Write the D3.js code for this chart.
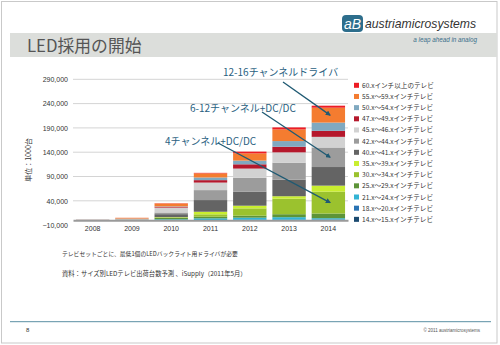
<!DOCTYPE html>
<html><head><meta charset="utf-8">
<script src="https://cdn.jsdelivr.net/npm/d3@7"></script>
<style>html,body{margin:0;padding:0;background:#fff;}svg{display:block;}</style>
</head><body>
<svg id="c" width="500" height="345"></svg>
<script>
// ---- data ----
const years = ["2008","2009","2010","2011","2012","2013","2014"];
const seriesNames = [
  "14.x～15.xインチテレビ","18.x～20.xインチテレビ","21.x～24.xインチテレビ","25.x～29.xインチテレビ",
  "30.x～34.xインチテレビ","35.x～39.xインチテレビ","40.x～41.xインチテレビ","42.x～44.xインチテレビ",
  "45.x～46.xインチテレビ","47.x～49.xインチテレビ","50.x～54.xインチテレビ","55.x～59.xインチテレビ",
  "60.xインチ以上のテレビ"];
const seriesColors = ["#1b4a70","#2a73b3","#33b4d4","#5d9438","#9bc22e","#c9ee30","#646464","#9c9c9c",
  "#d2d2d2","#b5182c","#80a9c0","#f47c30","#ed1c24"];
const s14 = [25, 50, 200, 200, 300, 300, 500];
const s18 = [25, 50, 300, 300, 500, 500, 1000];
const s21 = [50, 100, 1500, 3500, 4500, 5500, 2700];
const s25 = [200, 300, 3000, 3200, 4100, 6100, 9600];
const s30 = [100, 200, 1000, 5000, 15000, 32000, 45100];
const s35 = [0, 100, 500, 5300, 5500, 5000, 12300];
const s40 = [300, 600, 6000, 24000, 28700, 34000, 38300];
const s42 = [300, 700, 3500, 20500, 28700, 35000, 40200];
const s45 = [300, 800, 10000, 15500, 19000, 21300, 21900];
const s47 = [50, 300, 1500, 5000, 8800, 11500, 12300];
const s50 = [50, 300, 1000, 5500, 7600, 11700, 17000];
const s55 = [100, 1500, 6000, 8500, 15000, 24000, 30700];
const s60 = [0, 100, 500, 1000, 3500, 4100, 4100];
const seriesValues = [s14,s18,s21,s25,s30,s35,s40,s42,s45,s47,s50,s55,s60];
const yTicks = [-10000, 40000, 90000, 140000, 190000, 240000, 290000];
const annotations = [
  {text:"12-16チャンネルドライバ", year:"2014", series:11},
  {text:"6-12チャンネル+DC/DC", year:"2014", series:7},
  {text:"4チャンネル+DC/DC", year:"2014", series:4}
];
const notes = ["テレビセットごとに、最低1個のLEDバックライト用ドライバが必要",
               "資料：サイズ別LEDテレビ出荷台数予測 、iSupply（2011年5月）"];

// ---- drawing ----
const svg = d3.select("#c");
const JP = "'Noto Sans CJK JP','Noto Sans',sans-serif";
const LAT = "'Liberation Sans',Arial,sans-serif";

// page border
svg.append("rect").attr("x",1.5).attr("y",1.5).attr("width",495.5).attr("height",341.5)
  .attr("fill","none").attr("stroke","#c9c9c9").attr("stroke-width",1);

// title band
svg.append("rect").attr("x",10).attr("y",33).attr("width",487).attr("height",24).attr("fill","#dcdedb");
svg.append("text").attr("x",27).attr("y",52).attr("font-family",JP).attr("font-size",16.8)
  .attr("fill","#555").text("LED採用の開始");

// logo
svg.append("rect").attr("x",342).attr("y",15).attr("width",21).attr("height",17).attr("rx",4)
  .attr("fill","#2d6e8c");
svg.append("text").attr("x",352.5).attr("y",28.5).attr("text-anchor","middle").attr("font-family",LAT)
  .attr("font-style","italic").attr("font-size",14).attr("fill","#fff").text("aB");
svg.append("text").attr("x",365).attr("y",28).attr("font-family",LAT).attr("font-style","italic")
  .attr("font-size",12.2).attr("fill","#333").text("austriamicrosystems");
svg.append("text").attr("x",477).attr("y",42).attr("text-anchor","end").attr("font-family",LAT)
  .attr("font-style","italic").attr("font-size",6.3).attr("fill","#3a6e8a").text("a leap ahead in analog");

// scales
const x = d3.scaleBand().domain(years).range([73,348]).paddingInner(0.15).paddingOuter(0.075);
const y = d3.scaleLinear().domain([-10000,290000]).range([225.1,79.3]);

// gridlines
svg.append("g").selectAll("line").data(yTicks.slice(1)).join("line")
  .attr("x1",73).attr("x2",348).attr("y1",d=>y(d)).attr("y2",d=>y(d))
  .attr("stroke","#d4d4d4").attr("stroke-width",1);

// y axis
const yAxis = d3.axisLeft(y).tickValues(yTicks).tickSize(0).tickPadding(5)
  .tickFormat(d3.format(","));
const gy = svg.append("g").attr("transform","translate(73,0)").call(yAxis);
gy.select(".domain").remove();
gy.selectAll("text").attr("font-family",LAT).attr("font-size",7).attr("fill","#333");

svg.append("text").attr("transform","translate(31,160) rotate(-90)").attr("text-anchor","middle")
  .attr("font-family",JP).attr("font-size",7).attr("fill","#333").text("単位：1000台");

// stacked bars
const table = years.map((yr,i)=>{const o={year:yr}; seriesValues.forEach((s,j)=>o[j]=s[i]); return o;});
const stack = d3.stack().keys(d3.range(seriesValues.length))(table);
svg.append("g").selectAll("g").data(stack).join("g").attr("fill",(d,i)=>seriesColors[i])
  .selectAll("rect").data(d=>d).join("rect")
  .attr("x",d=>x(d.data.year)).attr("width",x.bandwidth())
  .attr("y",d=>y(d[1])).attr("height",d=>Math.max(0,y(d[0])-y(d[1])));

// x axis
const xAxis = d3.axisBottom(x).tickSize(0).tickPadding(6);
const gx = svg.append("g").attr("transform",`translate(0,${y(0)})`).call(xAxis);
gx.select(".domain").attr("stroke","#9a9a9a").attr("stroke-width",2);
gx.selectAll("text").attr("font-family",LAT).attr("font-size",7).attr("fill","#333");

// legend
const lg = svg.append("g");
const legendOrder = d3.range(seriesNames.length).reverse();
legendOrder.forEach((si,k)=>{
  const yy = 85.3 + k*11.17;
  lg.append("rect").attr("x",354).attr("y",yy-2.5).attr("width",5).attr("height",5).attr("fill",seriesColors[si]);
  lg.append("text").attr("x",362).attr("y",yy+2.5).attr("font-family",JP).attr("font-size",6.6)
    .attr("fill","#333").text(seriesNames[si]);
});

// annotations with arrows
const defs = svg.append("defs");
defs.append("marker").attr("id","ah").attr("viewBox","0 0 10 10").attr("refX",8).attr("refY",5)
  .attr("markerWidth",4).attr("markerHeight",4).attr("orient","auto")
  .append("path").attr("d","M0,0 L10,5 L0,10 z").attr("fill","#1f5a73");
const annPos = [
  {tx:223, ty:76, x1:283, y1:82},
  {tx:190, ty:112, x1:262, y1:112},
  {tx:165, ty:145, x1:218, y1:143}
];
annotations.forEach((a,i)=>{
  const p = annPos[i];
  const idx = years.indexOf(a.year);
  const st = stack[a.series][idx];
  const tx2 = x(a.year) + x.bandwidth()*0.55;
  const ty2 = (y(st[0])+y(st[1]))/2;
  svg.append("line").attr("x1",p.x1).attr("y1",p.y1).attr("x2",tx2).attr("y2",ty2)
    .attr("stroke","#1f5a73").attr("stroke-width",1.3).attr("marker-end","url(#ah)");
  svg.append("text").attr("x",p.tx).attr("y",p.ty).attr("font-family",JP).attr("font-size",10)
    .attr("fill","#2a5f7f").text(a.text);
});

// notes
const noteSizes = [5.8, 6.3];
notes.forEach((n,i)=>{
  svg.append("text").attr("x",62).attr("y",256+i*19.5).attr("font-family",JP).attr("font-size",noteSizes[i])
    .attr("fill","#333").text(n);
});

// footer
svg.append("line").attr("x1",10).attr("x2",491).attr("y1",321.7).attr("y2",321.7)
  .attr("stroke","#5b8fa3").attr("stroke-width",1);
svg.append("text").attr("x",26).attr("y",332).attr("font-family",LAT).attr("font-size",6)
  .attr("fill","#333").text("8");
svg.append("text").attr("x",480).attr("y",332).attr("text-anchor","end").attr("font-family",LAT)
  .attr("font-size",4.5).attr("fill","#555").text("© 2011 austriamicrosystems");
</script>
</body></html>
